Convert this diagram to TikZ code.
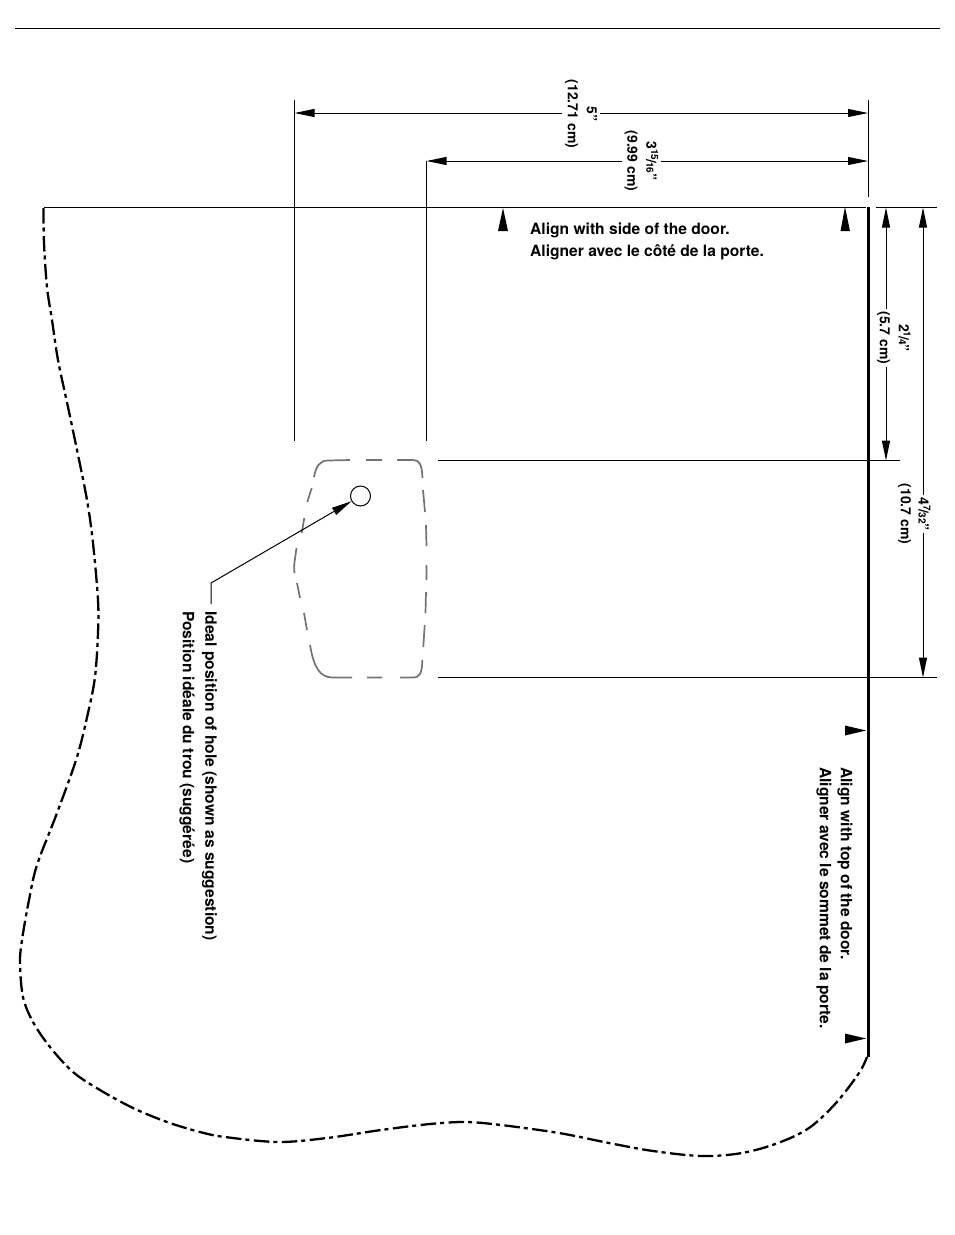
\documentclass[tikz,border=0pt]{standalone}
\usepackage{fontspec}
\setmainfont{TeX Gyre Heros}
\usetikzlibrary{arrows.meta}
\newcommand{\frc}[2]{\raisebox{0.34em}{\fontsize{10}{10}\selectfont #1}\kern-1pt{\fontsize{14}{14}\selectfont/}\kern-1pt{\fontsize{10}{10}\selectfont #2}}
\tikzset{
  x=1pt,y=-1pt,
  thinline/.style={line width=1pt,black},
  dimline/.style={thinline,-{Triangle[length=20pt,width=8pt]}},
  outline/.style={line width=2.3pt,dash pattern=on 15.5pt off 4pt on 4pt off 4.5pt},
  holeshape/.style={line width=1.7pt,color=black!55},
  lab/.style={font=\bfseries\fontsize{15.6}{20}\selectfont,inner sep=0pt,anchor=west},
  vlab/.style={font=\bfseries\fontsize{15.6}{20}\selectfont,inner sep=0pt,anchor=west,rotate=-90},
  dimlab/.style={font=\bfseries\fontsize{14}{19}\selectfont,inner sep=2.5pt,rotate=-90,align=center},
  wedgeh/.style={fill=black,draw=none},
}
\begin{document}
\begin{tikzpicture}
\useasboundingbox (0,0) rectangle (954,1235);
\coordinate (ruleL) at (15,28); \coordinate (ruleR) at (940,28);
\draw[line width=0.8pt] (ruleL) -- (ruleR);
% extension lines
\coordinate (e1t) at (294.5,100); \coordinate (e1b) at (294.5,441);
\coordinate (e2t) at (426.5,161); \coordinate (e2b) at (426.5,441);
\coordinate (e3t) at (868,100); \coordinate (e3b) at (868,197);
\draw[thinline] (e1t) -- (e1b);
\draw[thinline] (e2t) -- (e2b);
\draw[thinline] (e3t) -- (e3b);
% door edges
\coordinate (topL) at (44,207.5); \coordinate (topR) at (866,207.5);
\coordinate (top2L) at (876,207.5); \coordinate (top2R) at (937,207.5);
\coordinate (edgeT) at (868,207); \coordinate (edgeB) at (868,1057);
\draw[line width=1.4pt] (topL) -- (topR);
\draw[thinline] (top2L) -- (top2R);
\draw[line width=3pt] (edgeT) -- (edgeB);
\coordinate (h1L) at (438,460.5); \coordinate (h1R) at (900,460.5);
\coordinate (h2L) at (438,677.5); \coordinate (h2R) at (937,677.5);
\draw[thinline] (h1L) -- (h1R);
\draw[thinline] (h2L) -- (h2R);
% dimensions
\node[dimlab] (d5) at (581,114) {5"\\(12.71 cm)};
\coordinate (d5L) at (294.5,113); \coordinate (d5R) at (868,113);
\draw[dimline] (d5L -| d5.north) -- (d5R);
\draw[dimline] (d5L -| d5.south) -- (d5L);
\node[dimlab] (d3) at (641.5,161) {3\frc{15}{16}"\\(9.99 cm)};
\coordinate (d3L) at (426.5,161); \coordinate (d3R) at (868,161);
\draw[dimline] (d3L -| d3.north) -- (d3R);
\draw[dimline] (d3L -| d3.south) -- (d3L);
\node[dimlab] (d2) at (894,338) {2\frc{1}{4}"\\(5.7 cm)};
\coordinate (d2T) at (886,207.5); \coordinate (d2B) at (886,460.5);
\draw[dimline] (d2T |- d2.west) -- (d2T);
\draw[dimline] (d2T |- d2.east) -- (d2B);
\node[dimlab] (d4a) at (924.5,514) {4\frc{7}{32}"};
\node[dimlab] (d4b) at (904.5,514) {(10.7 cm)};
\coordinate (d4T) at (923,207.5); \coordinate (d4B) at (923,677.5);
\draw[dimline] (d4T |- d4a.west) -- (d4T);
\draw[dimline] (d4T |- d4a.east) -- (d4B);
% alignment wedges
\fill[wedgeh] (845,207) -- (850,231) -- (840.5,231) -- cycle;
\fill[wedgeh] (503,208) -- (508,231) -- (498,231) -- cycle;
\fill[wedgeh] (866,730.5) -- (845,725.5) -- (845,735.5) -- cycle;
\fill[wedgeh] (866,1038.5) -- (845,1033.5) -- (845,1043.5) -- cycle;
% labels
\node[lab] (a1) at (530,230.5) {Align with side of the door.};
\node[lab] (a2) at (530,252.5) {Aligner avec le côté de la porte.};
\node[vlab] (a3) at (845,767) {Align with top of the door.};
\node[vlab] (a4) at (824,767) {Aligner avec le sommet de la porte.};
\node[vlab] (h1) at (209.5,611) {Ideal position of hole (shown as suggestion)};
\node[vlab] (h2) at (187,611) {Position idéale du trou (suggérée)};
% hole region
\draw[holeshape]
  (314,477) .. controls (316,466) and (320,460.5) .. (328,460.5) -- (350,460)
  (366,460) -- (382,460)
  (397,460) -- (413,460) .. controls (419,460) and (422,464) .. (422.5,478)
  (423,490) -- (425,512)
  (426,525) -- (426.5,546)
  (426.5,565) -- (426.5,580)
  (426,592) -- (425.5,613)
  (424.7,625) -- (423.3,647)
  (422.3,660) .. controls (422,673) and (420,677.5) .. (413,677.5) -- (400,677.5)
  (382,677.5) -- (367,677.5)
  (352,677.5) -- (332,677.5) .. controls (320,677) and (314,668) .. (310,645)
  (307,630) -- (304,613)
  (300,598) -- (297,583)
  (296.5,548) -- (294.5,562) .. controls (294,566) and (294,569) .. (294.5,573)
  (301.7,533) -- (304.3,518)
  (307.3,502) -- (311.7,488);
% hole and leader
\node[circle,draw,line width=1pt,minimum size=20pt,inner sep=0pt] (hole) at (360.5,496) {};
\coordinate (lead0) at (211,604); \coordinate (lead1) at (211,583);
\draw[thinline,-{Triangle[length=20pt,width=8pt]}] (lead0) -- (lead1) -- (hole);
% outline
\draw[outline] plot[smooth,tension=0.55] coordinates {(43.5,208) (44,243) (47,287) (52,320) (58,360) (68,407) (77,450) (87,500) (93,543) (98,600) (98,633) (95,677) (88,713) (77,757) (57,813) (37,865) (29,900) (22,940) (20,963) (23,997) (33,1022) (50,1047) (73,1072) (100,1090) (133,1108) (167,1122) (200,1132) (225,1137) (278,1142) (327,1138) (381,1130) (430,1124) (466,1122) (501,1125) (559,1133) (609,1143) (653,1151) (702,1156) (742,1153) (778,1143) (809,1128) (836,1103) (859,1073) (867,1057)};
\end{tikzpicture}
\end{document}
